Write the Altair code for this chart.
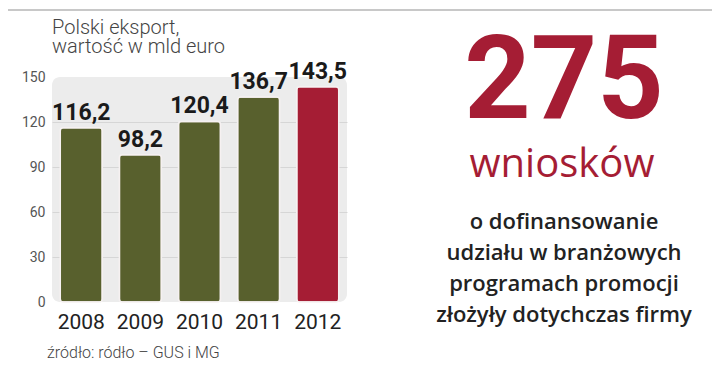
import altair as alt
import pandas as pd

# ---- data ----
years = ["2008", "2009", "2010", "2011", "2012"]
values = [116.2, 98.2, 120.4, 136.7, 143.5]
bar_colors = ["#58602d", "#58602d", "#58602d", "#58602d", "#a51d34"]
y_ticks = [0, 30, 60, 90, 120, 150]

title_lines = ["Polski eksport,", "wartość  w mld euro"]
source_text = "źródło: ródło – GUS i MG"
big_number = "275"
big_word = "wniosków"
desc_lines = ["o dofinansowanie", "udziału w branżowych",
              "programach promocji", "złożyły dotychczas firmy"]

df = pd.DataFrame({
    "year": years,
    "value": values,
    "color": bar_colors,
    "label": [f"{v:.1f}".replace(".", ",") for v in values],
})

W, H = 295, 225
RED = "#a51d34"

x_enc = alt.X("year:O", title=None,
              scale=alt.Scale(paddingInner=0.29, paddingOuter=0.14),
              axis=alt.Axis(labelAngle=0, labelFontSize=21, labelColor="#222222",
                            labelFont="Roboto", labelPadding=9, domain=False,
                            ticks=False, grid=False))
y_enc = alt.Y("value:Q", title=None,
              scale=alt.Scale(domain=[0, 150], nice=False),
              axis=alt.Axis(values=y_ticks, labelFontSize=14, labelColor="#555555",
                            labelFont="Roboto", labelPadding=7, domain=False,
                            ticks=False, grid=True,
                            gridColor=alt.condition("datum.value == 0 || datum.value == 150",
                                                    alt.value("transparent"),
                                                    alt.value("#d6d6d6")),
                            gridWidth=1))

base = alt.Chart(df)

bars = base.mark_bar(cornerRadius=3, stroke="#f6f1f1", strokeWidth=1.5).encode(
    x=x_enc, y=y_enc, color=alt.Color("color:N", scale=None)
)

labels = base.mark_text(font="Roboto", fontWeight="bold", fontSize=23,
                        color="#1a1a1a", baseline="alphabetic", dy=-8).encode(
    x="year:O", y="value:Q", text="label:N"
)


def note(text, x, y, **kw):
    d = pd.DataFrame({"t": [0]})
    return alt.Chart(d).mark_text(text=text, **kw).encode(
        x=alt.value(x), y=alt.value(y)
    )


top_rule = alt.Chart(pd.DataFrame({"t": [0]})).mark_rule(
    color="#c8c8c8", strokeWidth=2).encode(
    x=alt.value(-44), x2=alt.value(663), y=alt.value(-67)
)

title_1 = note(title_lines[0], 0, -43, align="left", baseline="alphabetic",
               font="Roboto", fontWeight=300, fontSize=20, color="#444444")
title_2 = note(title_lines[1], 0, -24, align="left", baseline="alphabetic",
               font="Roboto", fontWeight=300, fontSize=20, color="#444444")
source_t = note(source_text, -5, 281, align="left", baseline="alphabetic",
                font="Roboto", fontWeight=300, fontSize=16, color="#444444")
num_t = note(big_number, 512, 41, align="center", baseline="alphabetic",
             font="Roboto", fontWeight="bold", fontSize=116, color=RED)
word_t = note(big_word, 510, 100, align="center", baseline="alphabetic",
              font="Open Sans", fontSize=40, color=RED)
desc_t = note(desc_lines, 512, 152, align="center", baseline="alphabetic",
              font="Open Sans", fontWeight=600, fontSize=22, color="#222222",
              lineHeight=31)

chart = alt.layer(bars, labels, top_rule, title_1, title_2, source_t, num_t,
                  word_t, desc_t).properties(
    width=W, height=H,
    autosize=alt.AutoSizeParams(type="none"),
    padding={"left": 44, "top": 69, "right": 365, "bottom": 64},
    background="white",
).configure_view(
    fill="#ececec", strokeWidth=0, cornerRadius=8
)

chart.save("out.html", embed_options={"renderer": "svg", "actions": False})
